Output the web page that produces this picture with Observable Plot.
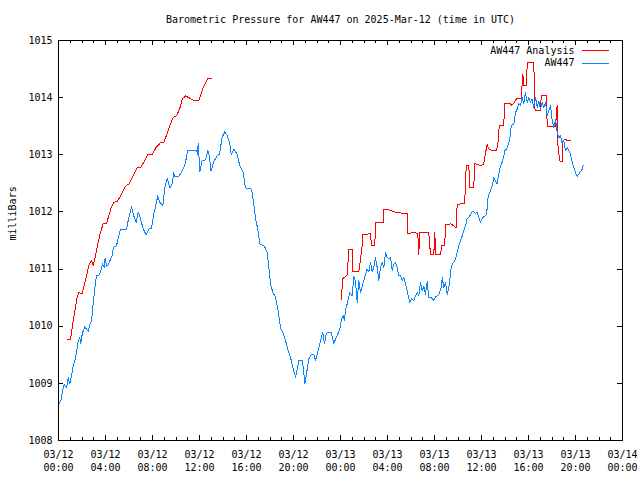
<!DOCTYPE html>
<html><head><meta charset="utf-8">
<script src="https://cdn.jsdelivr.net/npm/d3@7"></script>
<script src="https://cdn.jsdelivr.net/npm/@observablehq/plot@0.6"></script>
<style>html,body{margin:0;padding:0;background:#fff;}</style>
</head><body><div id="chart"></div>
<script>
const title = "Barometric Pressure for AW447 on 2025-Mar-12 (time in UTC)";
const yLabel = "milliBars";
const seriesNames = ["AW447 Analysis", "AW447"];
const seriesColors = ["#ff0000", "#0a84ff"];
const startUTC = "2025-03-12T00:00:00Z";
const endUTC = "2025-03-14T00:00:00Z";
const yTickValues = [1008, 1009, 1010, 1011, 1012, 1013, 1014, 1015];

// AW447 station series: hours after 03/12 00:00 UTC, pressure in mb
const stationHours = [
0.05,0.20,0.34,0.49,0.68,0.83,0.96,1.11,1.25,1.39,
1.56,1.68,1.81,1.90,1.98,2.10,2.24,2.41,2.55,2.66,
2.81,2.95,3.09,3.23,3.46,3.60,3.74,3.89,3.97,4.09,
4.26,4.45,4.60,4.66,4.94,5.13,5.28,5.79,5.98,6.21,
6.41,6.61,6.78,6.98,7.21,7.46,7.69,7.91,8.11,8.45,
8.62,8.88,9.05,9.25,9.47,9.68,9.81,9.87,10.24,10.61,
10.81,11.00,11.74,11.83,11.89,12.03,12.23,12.51,12.71,12.85,
12.98,13.19,13.49,13.70,13.93,14.15,14.36,14.58,14.70,14.92,
15.19,15.43,15.72,15.91,16.43,16.62,16.77,16.96,17.13,17.53,
17.76,17.90,18.04,18.24,18.47,18.70,18.89,19.12,19.32,19.51,
19.74,19.94,20.17,20.37,20.45,20.74,20.88,20.96,21.11,21.30,
21.51,21.73,21.87,22.10,22.30,22.49,22.64,22.78,22.92,23.21,
23.43,23.72,23.94,24.06,24.23,24.34,24.43,24.57,24.79,25.00,
25.13,25.28,25.42,25.56,25.70,25.98,26.13,26.27,26.41,26.55,
26.70,26.83,26.98,27.12,27.26,27.40,27.55,27.69,27.83,27.97,
28.11,28.26,28.40,28.54,28.68,28.83,28.96,29.11,29.25,29.39,
29.53,29.68,29.76,29.90,30.04,30.24,30.38,30.53,30.66,30.81,
30.95,31.09,31.23,31.38,31.51,31.66,31.94,32.09,32.37,32.57,
32.66,32.79,32.94,33.08,33.22,33.30,33.42,33.51,33.64,33.79,
33.93,34.07,34.21,34.36,34.49,34.64,34.78,35.00,35.21,35.34,
35.49,35.63,35.77,35.91,36.11,36.43,36.57,36.77,36.91,37.05,
37.19,37.33,37.47,37.62,37.76,37.90,37.98,38.13,38.32,38.47,
38.53,38.75,38.89,39.04,39.17,39.32,39.46,39.60,39.74,39.89,
40.03,40.17,40.31,40.45,40.60,40.74,40.88,41.02,41.17,41.30,
41.45,41.59,41.73,41.87,42.02,42.15,42.30,42.44,42.58,42.72,
42.87,43.00,43.15,43.29,43.43,43.57,43.72,43.86,44.00,44.14,
44.37,44.57,44.66];
const stationMb = [
1008.65,1008.69,1008.87,1008.98,1008.92,1009.10,1008.99,1009.14,1009.31,1009.40,
1009.57,1009.75,1009.80,1009.69,1009.82,1009.92,1009.99,1009.94,1009.91,1010.03,
1010.09,1010.39,1010.65,1010.88,1010.90,1010.97,1011.09,1011.03,1011.19,1011.04,
1011.09,1011.18,1011.26,1011.38,1011.41,1011.58,1011.70,1011.70,1011.90,1012.09,
1011.93,1011.82,1012.00,1011.88,1011.70,1011.60,1011.70,1011.71,1011.96,1012.28,
1012.17,1012.11,1012.43,1012.59,1012.42,1012.49,1012.69,1012.62,1012.62,1012.75,
1012.87,1013.08,1013.08,1013.01,1013.20,1012.71,1012.90,1012.91,1013.08,1012.96,
1012.71,1012.87,1012.98,1013.01,1013.31,1013.40,1013.34,1013.19,1013.01,1013.10,
1013.01,1012.81,1012.69,1012.42,1012.40,1012.14,1011.88,1011.70,1011.44,1011.40,
1011.29,1011.03,1010.74,1010.59,1010.51,1010.27,1009.98,1009.87,1009.75,1009.60,
1009.46,1009.28,1009.11,1009.31,1009.40,1009.40,1009.19,1008.99,1009.17,1009.43,
1009.50,1009.50,1009.40,1009.57,1009.74,1009.89,1009.69,1009.87,1009.89,1009.89,
1009.70,1009.84,1009.94,1010.10,1010.19,1010.10,1010.30,1010.39,1010.59,1010.53,
1010.88,1010.77,1010.42,1010.80,1010.59,1010.80,1010.91,1011.00,1010.95,1011.12,
1010.95,1011.03,1011.20,1011.03,1010.80,1011.03,1011.12,1011.03,1011.29,1011.20,
1011.18,1011.20,1010.97,1011.09,1011.12,1011.03,1010.88,1010.88,1010.80,1010.85,
1010.74,1010.62,1010.53,1010.42,1010.48,1010.45,1010.53,1010.59,1010.53,1010.77,
1010.62,1010.70,1010.56,1010.78,1010.50,1010.51,1010.45,1010.51,1010.56,1010.68,
1010.85,1010.68,1010.77,1010.56,1010.68,1010.80,1011.03,1011.09,1011.12,1011.18,
1011.29,1011.41,1011.50,1011.58,1011.67,1011.76,1011.88,1011.93,1012.00,1012.00,
1011.97,1012.00,1011.90,1011.82,1011.90,1011.95,1012.28,1012.37,1012.46,1012.60,
1012.55,1012.49,1012.67,1012.81,1012.87,1012.98,1013.07,1013.10,1013.21,1013.35,
1013.51,1013.54,1013.74,1013.80,1013.89,1013.86,1014.00,1013.89,1014.09,1013.92,
1014.00,1013.92,1013.97,1013.83,1014.00,1013.83,1013.94,1013.80,1013.92,1013.83,
1013.92,1013.68,1013.77,1013.86,1013.59,1013.48,1013.62,1013.39,1013.30,1013.33,
1013.19,1013.25,1013.07,1013.13,1013.07,1013.01,1012.87,1012.78,1012.69,1012.62,
1012.69,1012.75,1012.81];

// AW447 Analysis, first run (03/12)
const analysisHoursA = [
0.72,1.02,1.30,1.59,1.74,2.00,2.30,2.58,2.81,2.95,
3.15,3.34,3.57,3.80,4.09,4.28,4.49,4.71,5.00,5.28,
5.56,5.79,5.98,6.27,6.70,6.98,7.26,7.60,7.97,8.31,
8.68,8.96,9.23,9.47,9.76,10.04,10.32,10.55,10.81,11.09,
11.51,11.94,12.23,12.51,12.71,13.00];
const analysisMbA = [
1009.76,1009.76,1010.16,1010.51,1010.59,1010.57,1010.80,1011.06,1011.15,1011.06,
1011.23,1011.44,1011.64,1011.79,1011.80,1011.93,1012.08,1012.17,1012.18,1012.28,
1012.40,1012.47,1012.48,1012.60,1012.77,1012.77,1012.87,1013.00,1013.00,1013.13,
1013.21,1013.22,1013.36,1013.51,1013.65,1013.68,1013.81,1013.98,1014.03,1014.00,
1013.95,1013.95,1014.13,1014.26,1014.34,1014.34];

// AW447 Analysis, second run (03/13)
const analysisHoursB = [
24.06,24.19,24.57,24.71,25.00,25.05,25.56,25.85,25.89,26.55,
26.64,26.92,26.98,27.63,27.69,28.19,28.62,29.17,29.68,29.73,
30.24,30.58,30.66,30.75,31.51,31.66,31.94,32.02,32.11,32.53,
32.59,32.87,32.94,33.36,33.64,33.83,33.93,34.57,34.70,34.92,
35.00,35.34,35.43,35.91,36.19,36.48,36.62,36.91,37.28,37.39,
37.49,37.56,37.90,37.96,38.47,38.55,38.70,38.98,39.38,39.46,
39.52,39.60,39.83,39.89,40.45,40.54,40.66,41.02,41.08,41.53,
41.59,42.30,42.44,42.49,42.66,42.91,42.94,43.15,43.29,43.57];
const analysisMbB = [
1010.46,1010.83,1010.90,1011.34,1011.34,1010.95,1010.95,1011.41,1011.60,1011.62,
1011.41,1011.41,1011.82,1011.82,1012.05,1012.03,1012.00,1011.98,1011.98,1011.62,
1011.64,1011.62,1011.26,1011.64,1011.64,1011.25,1011.25,1011.64,1011.25,1011.25,
1011.41,1011.41,1011.78,1011.79,1011.76,1011.72,1012.13,1012.15,1012.81,1012.81,
1012.43,1012.43,1012.85,1012.81,1012.84,1013.19,1013.10,1013.07,1013.07,1013.19,
1013.45,1013.51,1013.51,1013.90,1013.90,1013.86,1013.89,1013.98,1013.99,1014.24,
1014.41,1014.21,1014.21,1014.61,1014.61,1013.80,1013.77,1013.77,1014.03,1014.03,
1013.50,1013.50,1013.86,1013.19,1012.89,1012.89,1013.25,1013.27,1013.25,1013.25];

const t0 = new Date(startUTC);
const t1 = new Date(endUTC);
const toDate = h => new Date(+t0 + h * 3600e3);
const station = stationHours.map((h, i) => ({t: toDate(h), p: stationMb[i]}));
const analysis = [
  ...analysisHoursA.map((h, i) => ({t: toDate(h), p: analysisMbA[i], seg: "a"})),
  ...analysisHoursB.map((h, i) => ({t: toDate(h), p: analysisMbB[i], seg: "b"}))
];
const majorTicks = d3.utcHour.every(4).range(t0, new Date(+t1 + 1));
const minorTicks = d3.utcHour.range(t0, new Date(+t1 + 1)).filter(d => d.getUTCHours() % 4 !== 0);
const fmt = d3.utcFormat("%m/%d\n%H:%M");

const W = 640, H = 480, mL = 58, mR = 18, mT = 40, mB = 40;
const innerW = W - mL - mR, innerH = H - mT - mB;
const TL = 5, TLm = 3;

const legendLines = (index, scales, values, dim) => {
  const g = d3.create("svg:g").attr("shape-rendering", "crispEdges");
  const right = dim && dim.width ? dim.width - dim.marginRight : W - mR;
  const top = dim && dim.width ? dim.marginTop : mT;
  seriesNames.forEach((name, i) => {
    const y = Math.round(top + 10 + i * 12.7) + 0.5;
    g.append("line")
      .attr("x1", right - 40).attr("x2", right - 13)
      .attr("y1", y).attr("y2", y)
      .attr("stroke", seriesColors[i]).attr("stroke-width", 1);
  });
  return g.node();
};

const chart = Plot.plot({
  width: W, height: H,
  marginLeft: mL, marginRight: mR, marginTop: mT, marginBottom: mB,
  style: {fontFamily: "'DejaVu Sans Mono', monospace", fontSize: "10px", background: "#fff", color: "#000", overflow: "visible"},
  x: {type: "utc", domain: [t0, t1], axis: null},
  y: {domain: [1008, 1015], axis: null},
  marks: [
    // data
    Plot.line(analysis, {x: "t", y: "p", z: "seg", stroke: seriesColors[0], strokeWidth: 1, shapeRendering: "crispEdges"}),
    Plot.line(station, {x: "t", y: "p", stroke: seriesColors[1], strokeWidth: 1, shapeRendering: "crispEdges"}),
    // frame and inward ticks
    Plot.frame({stroke: "#000", strokeWidth: 1, shapeRendering: "crispEdges"}),
    Plot.tickX(majorTicks, {x: d => d, insetTop: innerH - TL, stroke: "#000", shapeRendering: "crispEdges"}),
    Plot.tickX(majorTicks, {x: d => d, insetBottom: innerH - TL, stroke: "#000", shapeRendering: "crispEdges"}),
    Plot.tickX(minorTicks, {x: d => d, insetTop: innerH - TLm, stroke: "#000", shapeRendering: "crispEdges"}),
    Plot.tickX(minorTicks, {x: d => d, insetBottom: innerH - TLm, stroke: "#000", shapeRendering: "crispEdges"}),
    Plot.tickY(yTickValues, {y: d => d, insetRight: innerW - TL, stroke: "#000", shapeRendering: "crispEdges"}),
    Plot.tickY(yTickValues, {y: d => d, insetLeft: innerW - TL, stroke: "#000", shapeRendering: "crispEdges"}),
    // tick labels
    Plot.text(majorTicks, {x: d => d, text: d => fmt(d), frameAnchor: "bottom", lineAnchor: "top", dy: 8, lineHeight: 1.3, fill: "#000"}),
    Plot.text(yTickValues, {y: d => d, text: d => String(d), frameAnchor: "left", textAnchor: "end", lineAnchor: "middle", dx: -6, fill: "#000"}),
    // axis label and title
    Plot.text([yLabel], {text: d => d, frameAnchor: "left", rotate: -90, lineAnchor: "middle", dx: -46, fill: "#000"}),
    Plot.text([title], {text: d => d, frameAnchor: "top", lineAnchor: "middle", dy: -21, fill: "#000"}),
    // legend
    Plot.text([seriesNames[0]], {text: d => d, frameAnchor: "top-right", textAnchor: "end", lineAnchor: "middle", dx: -48, dy: 10, fill: "#000"}),
    Plot.text([seriesNames[1]], {text: d => d, frameAnchor: "top-right", textAnchor: "end", lineAnchor: "middle", dx: -48, dy: 22.7, fill: "#000"}),
    legendLines
  ]
});
document.getElementById("chart").appendChild(chart);
</script>
</body></html>
